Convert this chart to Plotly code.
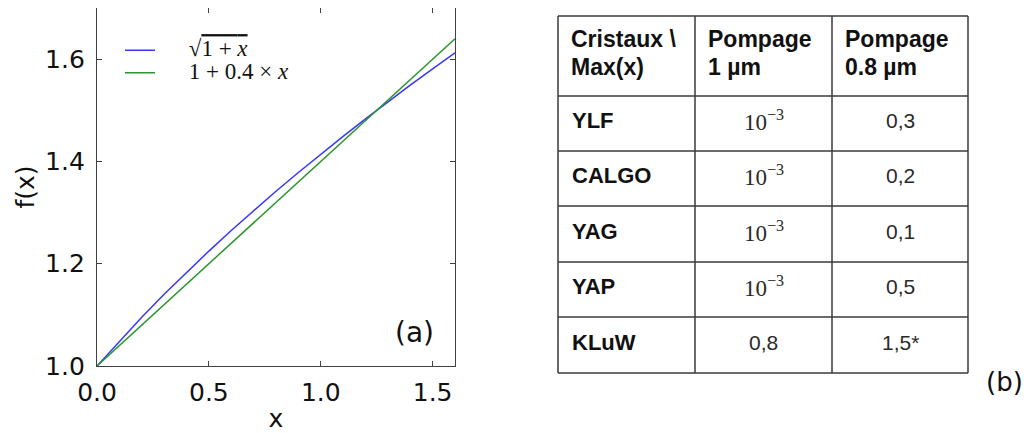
import plotly.graph_objects as go

# ---------------- data ----------------
x_vals = [0.0, 0.1, 0.2, 0.3, 0.4, 0.5, 0.6, 0.7, 0.8, 0.9, 1.0, 1.1, 1.2, 1.3, 1.4, 1.5, 1.6]
sqrt_vals = [1.0, 1.0488, 1.0954, 1.1402, 1.1832, 1.2247, 1.2649, 1.3038, 1.3416, 1.3784,
             1.4142, 1.4491, 1.4832, 1.5166, 1.5492, 1.5811, 1.6125]
lin_vals = [1.0, 1.04, 1.08, 1.12, 1.16, 1.20, 1.24, 1.28, 1.32, 1.36,
            1.40, 1.44, 1.48, 1.52, 1.56, 1.60, 1.64]

x_ticks = [0.0, 0.5, 1.0, 1.5]
y_ticks = [1.0, 1.2, 1.4, 1.6]

header_lines = [["Cristaux \\", "Max(x)"], ["Pompage", "1 µm"], ["Pompage", "0.8 µm"]]
crystals = ["YLF", "CALGO", "YAG", "YAP", "KLuW"]
pump_1um = ["10^-3", "10^-3", "10^-3", "10^-3", "0,8"]
pump_08um = ["0,3", "0,2", "0,1", "0,5", "1,5*"]

# ---------------- layout constants ----------------
PAGE = 8                      # default body margin of the html page
W, H = 1032 - PAGE, 433 - PAGE
L, R, T, B = 97, 455, 8, 366  # plot area, in page pixels

def px(x):
    return (x - L) / (R - L)
def py(y):
    return (B - y) / (B - T)

BLUE = "#3636ff"
GREEN = "#2a952a"
AX = "#404040"
TICKFONT = dict(family="DejaVu Sans", size=25, color="#111")

def big(t):
    return f"<span style='font-size:23px'>{t}</span>"

fig = go.Figure()
fig.add_trace(go.Scatter(x=x_vals, y=sqrt_vals, mode="lines",
                         line=dict(color=BLUE, width=1.5),
                         name=big("     √<span style='text-decoration:overline'>1 + <i>x</i></span>")))
fig.add_trace(go.Scatter(x=x_vals, y=lin_vals, mode="lines",
                         line=dict(color=GREEN, width=1.5),
                         name=big("     1 + 0.4 × <i>x</i>")))

axis_common = dict(showgrid=False, zeroline=False, showline=True, mirror="ticks",
                   linecolor=AX, linewidth=1.3, ticks="inside", ticklen=5,
                   tickcolor=AX, tickwidth=1, tickfont=TICKFONT, automargin=False)
fig.update_xaxes(range=[0, 1.6], tickvals=x_ticks, ticktext=[f"{v:.1f}" for v in x_ticks],
                 ticklabelstandoff=4,
                 title=dict(text="x", font=TICKFONT, standoff=6), **axis_common)
fig.update_yaxes(range=[1.0, 1.7], tickvals=y_ticks, ticktext=[f"{v:.1f}" for v in y_ticks],
                 ticklabelstandoff=6,
                 title=dict(text="f(x)", font=TICKFONT, standoff=3), **axis_common)

# panel labels
annotations = [
    dict(text="(a)", x=px(414), y=py(332), xref="paper", yref="paper", showarrow=False,
         xanchor="center", yanchor="middle",
         font=dict(family="DejaVu Sans", size=28, color="#111")),
    dict(text="(b)", x=px(1004), y=py(382), xref="paper", yref="paper", showarrow=False,
         xanchor="center", yanchor="middle",
         font=dict(family="DejaVu Sans", size=26, color="#111")),
]

# ---------------- table (b) ----------------
col_edges = [558, 695, 832, 968]
row_edges = [16, 96, 151, 206, 262, 317, 373]
shapes = []
LINE = dict(color="#3a3a3a", width=1.5)
for yy in row_edges:
    shapes.append(dict(type="line", xref="paper", yref="paper", x0=px(col_edges[0]), x1=px(col_edges[-1]),
                       y0=py(yy), y1=py(yy), line=LINE))
for xx in col_edges:
    shapes.append(dict(type="line", xref="paper", yref="paper", x0=px(xx), x1=px(xx),
                       y0=py(row_edges[0]), y1=py(row_edges[-1]), line=LINE))

SANS = "Liberation Sans"
TXT = "#111111"
for c, lines in enumerate(header_lines):
    for i, t in enumerate(lines):
        annotations.append(dict(text=f"<b>{t}</b>", x=px(col_edges[c] + 11), y=py(39 + 28 * i),
                                xref="paper", yref="paper", xanchor="left", yanchor="middle",
                                showarrow=False, font=dict(family=SANS, size=23, color=TXT)))

def cell_text(v):
    if "^" in v:
        base, exp = v.split("^")
        return f"{base}<sup>{exp.replace('-', '−')}</sup>", "Liberation Serif", 23
    return v, SANS, 21

for r in range(len(crystals)):
    yc = (row_edges[r + 1] + row_edges[r + 2]) / 2 - 3
    annotations.append(dict(text=f"<b>{crystals[r]}</b>", x=px(col_edges[0] + 12), y=py(yc),
                            xref="paper", yref="paper", xanchor="left", yanchor="middle",
                            showarrow=False, font=dict(family=SANS, size=22, color=TXT)))
    for c, col in enumerate([pump_1um, pump_08um], start=1):
        t, fam, sz = cell_text(col[r])
        annotations.append(dict(text=t, x=px((col_edges[c] + col_edges[c + 1]) / 2), y=py(yc),
                                xref="paper", yref="paper", xanchor="center", yanchor="middle",
                                showarrow=False, font=dict(family=fam, size=sz, color="#2a2a2a")))

fig.update_layout(
    width=W, height=H,
    margin=dict(l=L - PAGE, r=W - (R - PAGE), t=T - PAGE, b=H - (B - PAGE), autoexpand=False),
    paper_bgcolor="white", plot_bgcolor="white",
    showlegend=True,
    legend=dict(x=px(120), y=py(34), xanchor="left", yanchor="top", bgcolor="rgba(0,0,0,0)",
                font=dict(family="Liberation Serif", size=15, color="#111"),
                tracegroupgap=0, itemwidth=30),
    shapes=shapes, annotations=annotations,
)

fig.write_html("out.html")
